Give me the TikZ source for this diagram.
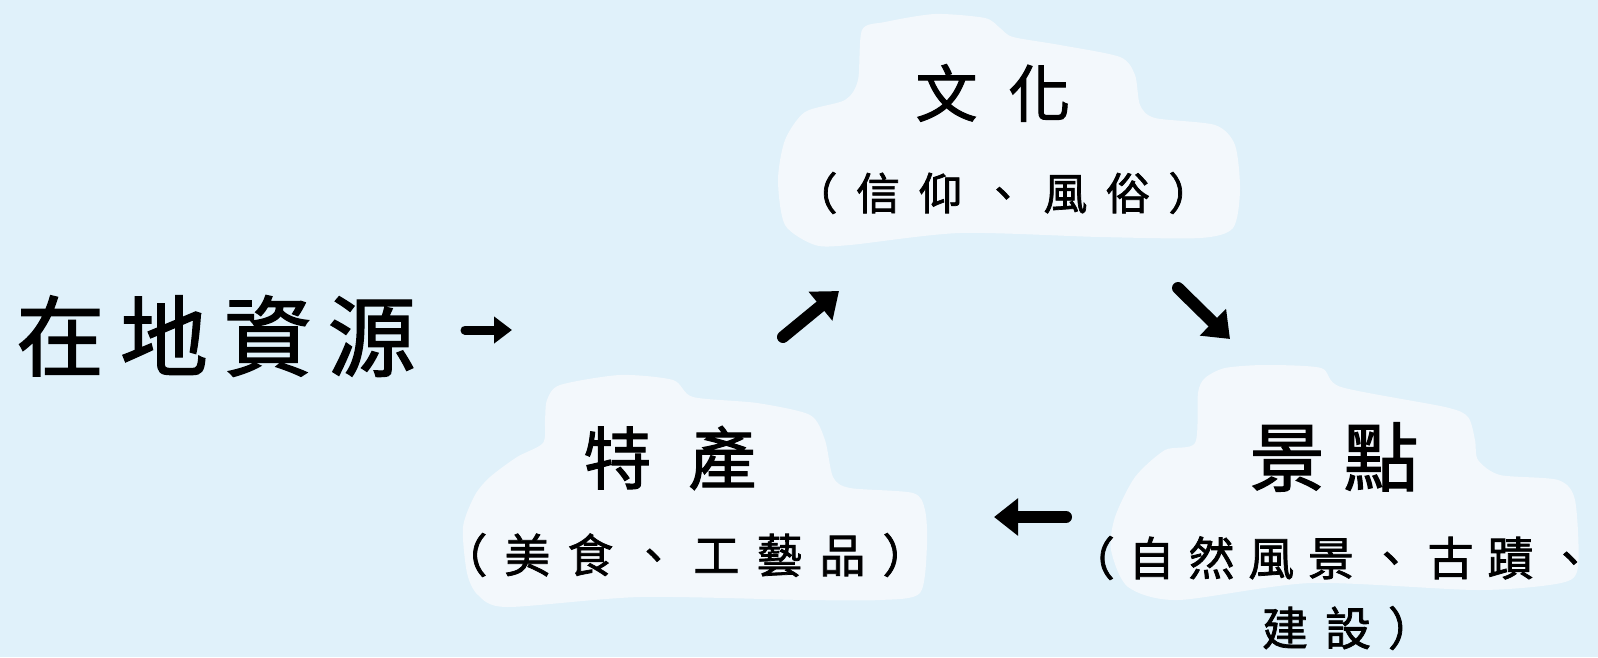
\documentclass[tikz,border=0pt]{standalone}
\usepackage{fontspec}
\newfontfamily\cjk[FakeBold=1.6]{Noto Sans CJK TC}
\usetikzlibrary{arrows.meta}
\definecolor{bgblue}{RGB}{224,241,250}
\definecolor{cloudwhite}{RGB}{243,248,252}
\newcommand\kk{\hspace{\kgv}}
\def\kgv{0.3em}
\tikzset{
  cloud/.style={fill=cloudwhite, draw=none},
  ttl/.style={inner sep=0pt, anchor=center, text=black},
  brush/.style={line width=12pt, line cap=round, -{Triangle[length=24pt,width=36pt]}},
  thinbrush/.style={line width=9pt, line cap=round, -{Triangle[length=18pt,width=26pt]}}
}
\begin{document}
\begin{tikzpicture}[x=1pt,y=-1pt]
\useasboundingbox (0,0) rectangle (1598,657);
\fill[bgblue] (0,0) rectangle (1598,657);

% clouds
\fill[cloud] plot[smooth cycle, tension=0.45] coordinates {
 (862,30) (885,22) (935,14) (985,18) (1000,28) (1013,37) (1060,45) (1120,57)
 (1135,75) (1140,105) (1155,118) (1215,125) (1235,145) (1240,190) (1233,228)
 (1200,238) (1100,237) (960,233) (850,245) (815,245) (785,225) (778,180)
 (785,140) (805,112) (845,100) (858,80)};
\fill[cloud] plot[smooth cycle, tension=0.45] coordinates {
 (547,400) (560,385) (620,375) (673,380) (693,397) (757,403) (810,415) (825,440)
 (833,477) (850,488) (913,493) (925,510) (927,545) (920,593) (880,600) (807,600)
 (640,597) (507,607) (478,595) (467,573) (463,527) (475,495) (490,477) (517,457)
 (543,443) (545,420)};
\fill[cloud] plot[smooth cycle, tension=0.45] coordinates {
 (1198,393) (1205,378) (1225,368) (1265,365) (1321,368) (1341,387) (1445,407)
 (1468,417) (1475,440) (1478,460) (1500,475) (1558,480) (1575,500) (1578,567)
 (1561,583) (1478,590) (1311,583) (1178,600) (1128,587) (1111,550) (1115,517)
 (1135,477) (1165,450) (1195,443)};

% texts
\node[ttl, font=\cjk\fontsize{88pt}{88pt}\selectfont\def\kgv{0.18em}] (src) at (216,336) {在\kk 地\kk 資\kk 源};

\node[ttl, font=\cjk\fontsize{62pt}{62pt}\selectfont\def\kgv{0.5em}] (cul) at (993,93) {文\kk 化};
\node[ttl, font=\cjk\fontsize{44pt}{44pt}\selectfont\def\kgv{0.42em}] (culsub) at (1003,193) {（\kk 信\kk 仰\kk 、\kk 風\kk 俗\kk ）};

\node[ttl, font=\cjk\fontsize{68pt}{68pt}\selectfont\def\kgv{0.54em}] (spe) at (670,458) {特\kk 產};
\node[ttl, font=\cjk\fontsize{46pt}{46pt}\selectfont\def\kgv{0.37em}] (spesub) at (685,555) {（\kk 美\kk 食\kk 、\kk 工\kk 藝\kk 品\kk ）};

\node[ttl, font=\cjk\fontsize{75pt}{75pt}\selectfont\def\kgv{0.25em}] (sce) at (1334,457) {景\kk 點};
\node[ttl, font=\cjk\fontsize{46pt}{46pt}\selectfont\def\kgv{0.3em}] (scesubA) at (1331,558) {（\kk 自\kk 然\kk 風\kk 景\kk 、\kk 古\kk 蹟\kk 、};
\node[ttl, font=\cjk\fontsize{46pt}{46pt}\selectfont\def\kgv{0.37em}] (scesubB) at (1348,628) {建\kk 設\kk ）};

% arrows
\coordinate (a1s) at (465,330); \coordinate (a1e) at (512,330);
\coordinate (a2s) at (783,337); \coordinate (a2e) at (839,291);
\coordinate (a3s) at (1178,288); \coordinate (a3e) at (1230,339);
\coordinate (a4s) at (1066,517); \coordinate (a4e) at (994,517);
\draw[thinbrush] (a1s) -- (a1e);
\draw[brush] (a2s) -- (a2e);
\draw[brush] (a3s) -- (a3e);
\draw[brush] (a4s) -- (a4e);
\end{tikzpicture}
\end{document}
